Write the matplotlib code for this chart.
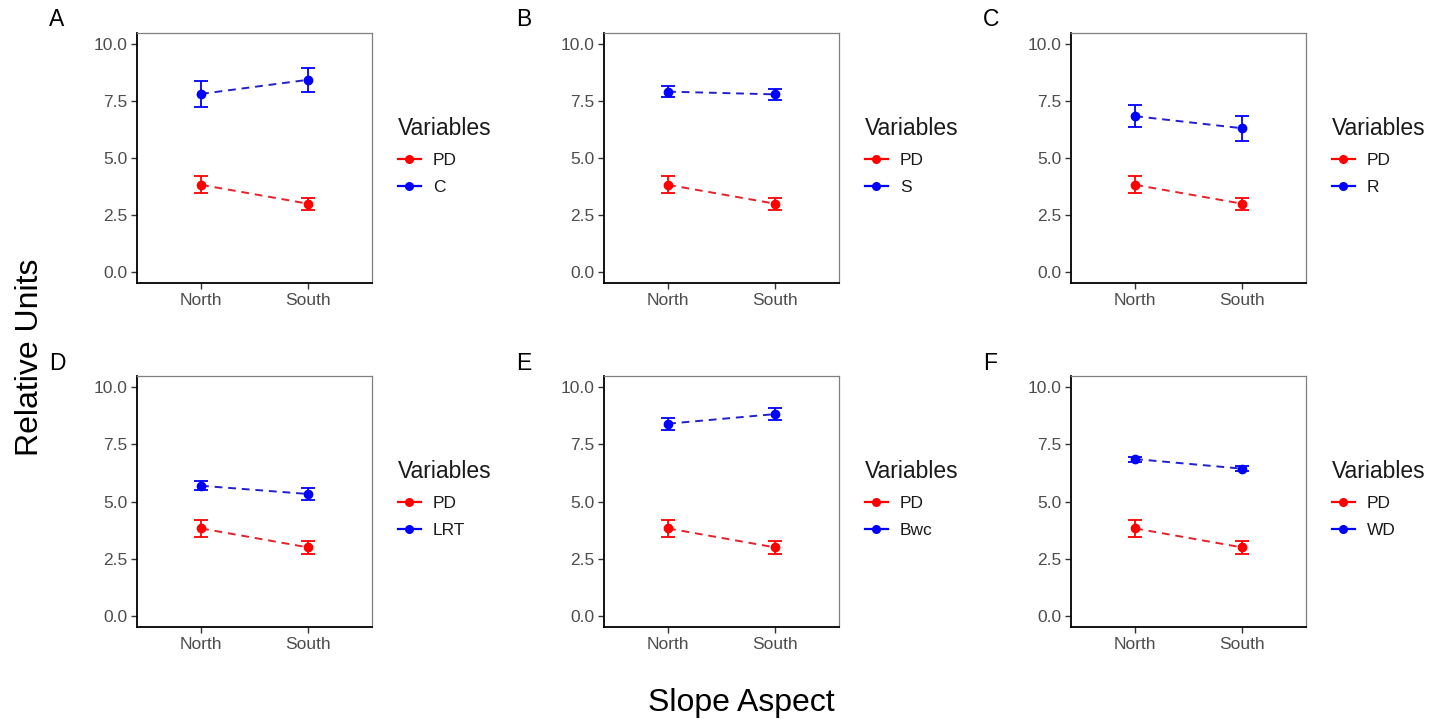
"""Slope aspect panels: PD vs. other variables (North / South)."""
import matplotlib
matplotlib.use("Agg")
import matplotlib.pyplot as plt
from matplotlib.lines import Line2D

plt.rcParams["font.family"] = ["Liberation Sans", "DejaVu Sans"]

aspects = ["North", "South"]
panel_tags = ["A", "B", "C", "D", "E", "F"]
other_names = ["C", "S", "R", "LRT", "Bwc", "WD"]

pd_mean = [3.82, 2.99]
pd_err = [0.38, 0.27]

other_mean = [
    [7.82, 8.44],
    [7.92, 7.80],
    [6.84, 6.31],
    [5.69, 5.33],
    [8.41, 8.83],
    [6.86, 6.44],
]
other_err = [
    [0.56, 0.54],
    [0.25, 0.24],
    [0.49, 0.56],
    [0.19, 0.26],
    [0.26, 0.28],
    [0.11, 0.11],
]

W, H = 1445, 719
fig = plt.figure(figsize=(W / 100, H / 100), dpi=100)

col_left = [137, 604, 1071]
ax_w = 235
row_top = [33, 376]
ax_h = [250, 251]

grey_txt = "#4D4D4D"
x = [1, 2]

for k in range(6):
    r, c = divmod(k, 3)
    left = col_left[c]
    top = row_top[r]
    ax = fig.add_axes([left / W, 1 - (top + ax_h[r]) / H, ax_w / W, ax_h[r] / H])

    ax.errorbar(x, pd_mean, yerr=pd_err, color="red", fmt="o", ms=6,
                capsize=5, elinewidth=1.3, capthick=1.3, zorder=3)
    ax.plot(x, pd_mean, color="#E8202A", ls=(0, (4, 3)), lw=1.4, zorder=2)
    ax.errorbar(x, other_mean[k], yerr=other_err[k], color="blue", fmt="o",
                ms=6, capsize=5, elinewidth=1.3, capthick=1.3, zorder=3)
    ax.plot(x, other_mean[k], color="#2020D0", ls=(0, (4, 3)), lw=1.4,
            zorder=2)

    ax.set_xlim(0.4, 2.6)
    ax.set_ylim(-0.5, 10.5)
    ax.set_xticks(x)
    ax.set_xticklabels(aspects)
    ax.set_yticks([0, 2.5, 5, 7.5, 10])
    ax.set_yticklabels(["0.0", "2.5", "5.0", "7.5", "10.0"])
    ax.tick_params(labelsize=12.5, labelcolor=grey_txt, color="#333333",
                   length=4, width=1, pad=3)
    for side in ("left", "bottom"):
        ax.spines[side].set_color("black")
        ax.spines[side].set_linewidth(1.3)
    for side in ("top", "right"):
        ax.spines[side].set_color("#808080")
        ax.spines[side].set_linewidth(0.9)

    fig.text((left - 88) / W, 1 - (top - 13) / H, panel_tags[k],
             fontsize=16.5, va="center", ha="left")

    handles = [
        Line2D([], [], color="red", marker="o", ms=5.5, lw=1.6),
        Line2D([], [], color="blue", marker="o", ms=5.5, lw=1.6),
    ]
    leg = ax.legend(handles, ["PD", other_names[k]], title="Variables",
                    loc="upper left", frameon=False,
                    bbox_to_anchor=((left + ax_w + 26) / W, 1 - (top + 84) / H),
                    bbox_transform=fig.transFigure, borderpad=0,
                    borderaxespad=0, fontsize=12.5, title_fontsize=16.5,
                    handlelength=1.3, handletextpad=0.7, labelspacing=0.72,
                    alignment="left")
    for t in leg.get_texts():
        t.set_color("#1A1A1A")
    leg.get_title().set_color("#1A1A1A")

fig.text(30 / W, 1 - 357 / H, "Relative Units", rotation=90, fontsize=23,
         va="center", ha="center")
fig.text(741 / W, 1 - 703 / H, "Slope Aspect", fontsize=23,
         va="center", ha="center")

fig.savefig("out.png", dpi=100)
